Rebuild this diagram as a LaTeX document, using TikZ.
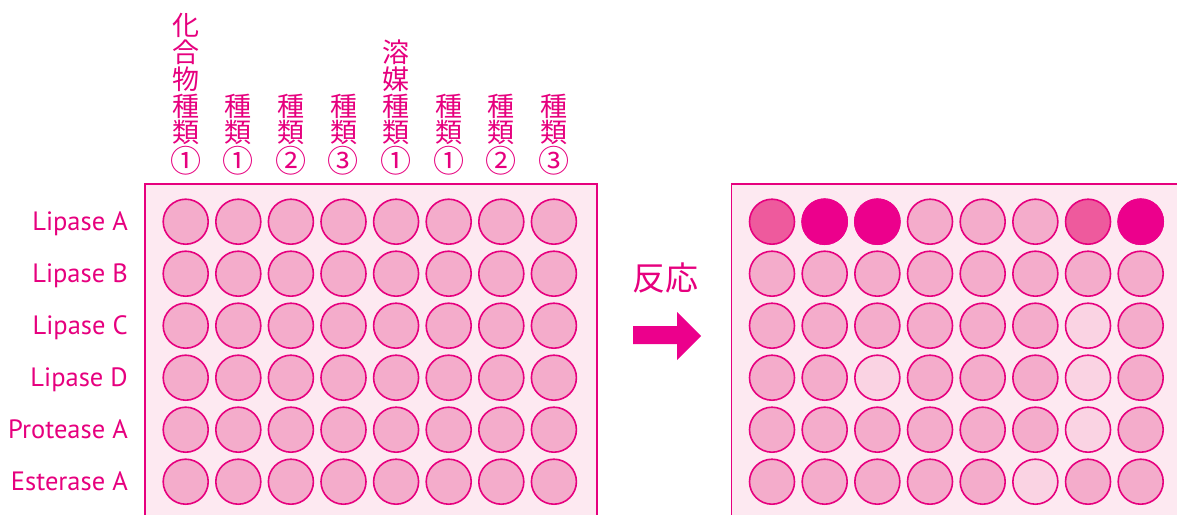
\documentclass[tikz,border=0pt]{standalone}
\usepackage{fontspec}
\setmainfont{PT Sans}
\newfontfamily\jp{Noto Sans CJK JP}
\definecolor{mag}{HTML}{E6007E}
\definecolor{platebg}{HTML}{FDE9F1}
\definecolor{wN}{HTML}{F4ACCB}
\definecolor{wL}{HTML}{FAD3E3}
\definecolor{wM}{HTML}{EE5A9D}
\definecolor{wD}{HTML}{EC008C}
\newcommand{\cn}[1]{\scalebox{1.15}{#1}}
\tikzset{
  platebox/.style={draw=mag, line width=1.8pt, fill=platebg},
  wellc/.style={circle, minimum size=45pt, inner sep=0pt, draw=mag, line width=1.6pt},
  rowlab/.style={anchor=base east, text=mag, inner sep=0pt, font=\fontsize{26.5}{30}\selectfont},
  collab/.style={anchor=south, text=mag, inner sep=0pt, align=center, font=\jp\fontsize{27}{26.7}\selectfont},
}
\begin{document}
\begin{tikzpicture}[x=1pt,y=-1pt]
\useasboundingbox (0,0) rectangle (1177,514);
\clip (0,0) rectangle (1177,514);
% plates
\draw[platebox] (145,184) rectangle (597,540);
\draw[platebox] (731.5,184) rectangle (1200,540);
% left wells
\foreach \r in {0,...,5}
  \foreach \c in {0,...,7}
    \node[wellc, fill=wN] (L\r\c) at ({185.7+52.6*\c},{221.7+52*\r}) {};
% right wells
\foreach \r/\row in {0/{wM,wD,wD,wN,wN,wN,wM,wD},
                     1/{wN,wN,wN,wN,wN,wN,wN,wN},
                     2/{wN,wN,wN,wN,wN,wN,wL,wN},
                     3/{wN,wN,wL,wN,wN,wN,wL,wN},
                     4/{wN,wN,wN,wN,wN,wN,wL,wN},
                     5/{wN,wN,wN,wN,wN,wL,wN,wN}}
  \foreach \k [count=\c from 0] in \row
    \node[wellc, fill=\k] (R\r\c) at ({772+52.67*\c},{221.7+52*\r}) {};
% dark wells drawn without a separate outline
\foreach \r/\c in {0/1,0/2,0/7}
  \node[wellc, fill=wD, draw=wD] (D\r\c) at ({772+52.67*\c},{221.7+52*\r}) {};
% row labels
\foreach \t [count=\r from 0] in {Lipase A,Lipase B,Lipase C,Lipase D,Protease A,Esterase A}
  \node[rowlab] (lab\r) at (128,{221.7+52*\r+9}) {\t};
% column labels
\foreach \t [count=\c from 0] in {化\\合\\物\\種\\類\\\cn{①}, 種\\類\\\cn{①}, 種\\類\\\cn{②}, 種\\類\\\cn{③}, 溶\\媒\\種\\類\\\cn{①}, 種\\類\\\cn{①}, 種\\類\\\cn{②}, 種\\類\\\cn{③}}
  \node[collab] (col\c) at ({185.7+52.6*\c},175) {\t};
% reaction
\node[text=mag, font=\jp\fontsize{33}{35}\selectfont, inner sep=0pt] (rxn) at (665,278) {反応};
\fill[wD] (633,326) -- (677,326) -- (677,312) -- (701,336) -- (677,360) -- (677,344) -- (633,344) -- cycle;
\end{tikzpicture}
\end{document}
